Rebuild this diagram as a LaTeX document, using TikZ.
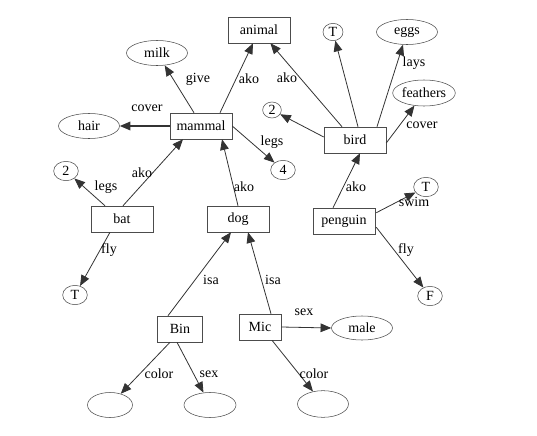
\documentclass[tikz,border=0pt]{standalone}
\usepackage{fontspec}
\setmainfont{Liberation Serif}
\usetikzlibrary{shapes.geometric,arrows.meta,calc}
\begin{document}
\begin{tikzpicture}[x=0.75pt,y=-0.75pt,
  font=\fontsize{10.5}{12}\selectfont,
  box/.style={draw=black!70, rectangle, inner sep=0pt, minimum width=46.5pt, minimum height=19.5pt},
  ell/.style={draw=black!70, ellipse, inner sep=0pt, minimum width=45.75pt, minimum height=18.75pt},
  sm/.style={draw=black!70, ellipse, inner sep=0pt, minimum width=18.5pt, minimum height=14.5pt},
  arr/.style={draw=black!80, line width=0.6pt, -{Triangle[length=8pt,width=6.5pt]}},
  lbl/.style={inner sep=0pt}]
\useasboundingbox (0,0) rectangle (537,436);
% nodes
\node[box] (animal) at (259,30) {animal};
\node[ell] (milk) at (157,53) {milk};
\node[box] (mammal) at (201,126) {mammal};
\node[ell] (hair) at (89,126) {hair};
\node[sm] (four) at (283,170) {4};
\node[sm, minimum width=15pt, minimum height=13pt] (Ttop) at (333,32) {T};
\node[ell] (eggs) at (407,32) {eggs};
\node[ell, minimum height=19.5pt] (feathers) at (424,93) {feathers};
\node[sm, minimum width=14pt, minimum height=12pt] (twob) at (272,110) {2};
\node[box] (bird) at (355,140) {bird};
\node[sm] (twoa) at (66,171) {2};
\node[box] (bat) at (122,219) {bat};
\node[sm] (Tbat) at (75,295) {T};
\node[box] (dog) at (238,219) {dog};
\node[box] (penguin) at (344,221) {penguin};
\node[sm] (Tpen) at (426,187) {T};
\node[sm] (F) at (430,296) {F};
\node[box, minimum width=33.75pt] (Bin) at (180,329) {Bin};
\node[box, minimum width=31.5pt] (Mic) at (260,327) {Mic};
\node[ell, minimum height=18pt] (male) at (362,328) {male};
\node[ell, minimum width=33.75pt] (eone) at (110,405) {};
\node[ell, minimum width=39pt] (etwo) at (210,405) {};
\node[ell, minimum width=38.25pt, minimum height=20pt] (ethree) at (323,404) {};
% connectors
\draw[arr] ($(mammal.north)+(-7,0)$) -- (milk);
\draw[arr] ($(mammal.north)+(19,0)$) -- ($(animal.south)+(-6,0)$);
\draw[arr, line width=1pt] (mammal.west) -- (hair.east);
\draw[arr] (mammal.east) -- (four);
\draw[arr] ($(bird.north)+(-13,0)$) -- (animal);
\draw[arr] ($(bird.north)+(3,0)$) -- (Ttop);
\draw[arr] ($(bird.north)+(22,0)$) -- (eggs);
\draw[arr] ($(bird.east)+(0,3)$) -- (feathers);
\draw[arr] ($(bird.west)+(0,-3)$) -- (twob);
\draw[arr] ($(bat.north)+(1,0)$) -- ($(mammal.south)+(-18,0)$);
\draw[arr] ($(bat.north)+(-17,0)$) -- (twoa);
\draw[arr] ($(bat.south)+(-12,0)$) -- (Tbat);
\draw[arr] (dog.north) -- ($(mammal.south)+(21,0)$);
\draw[arr] ($(penguin.north)+(-11,0)$) -- ($(bird.south)+(5,0)$);
\draw[arr] ($(penguin.north east)+(1,5)$) -- (Tpen);
\draw[arr] ($(penguin.south east)+(1,-7)$) -- (F);
\draw[arr] ($(Bin.north)+(-12,0)$) -- ($(dog.south)+(-7,0)$);
\draw[arr] ($(Mic.north)+(11,0)$) -- ($(dog.south)+(10,0)$);
\draw[arr] ($(Bin.south)+(-10,0)$) -- (eone);
\draw[arr] ($(Bin.south)+(-3,0)$) -- (etwo);
\draw[arr] (Mic.east) -- (male.west);
\draw[arr] ($(Mic.south)+(12,0)$) -- (ethree);
% labels
\node[lbl] (lgive) at (198,79) {give};
\node[lbl] (lako1) at (249,79) {ako};
\node[lbl] (lcover1) at (147,108) {cover};
\node[lbl] (lako2) at (287,78) {ako};
\node[lbl] (llays) at (414,63) {lays};
\node[lbl] (lcover2) at (422,125) {cover};
\node[lbl] (llegs1) at (272,142) {legs};
\node[lbl] (lako3) at (142,173) {ako};
\node[lbl] (llegs2) at (106,187) {legs};
\node[lbl] (lako4) at (244,187) {ako};
\node[lbl] (lako5) at (356,187) {ako};
\node[lbl] (lswim) at (414,202) {swim};
\node[lbl] (lfly1) at (109,250) {fly};
\node[lbl] (lfly2) at (406,250) {fly};
\node[lbl] (lisa1) at (211,280) {isa};
\node[lbl] (lisa2) at (273,280) {isa};
\node[lbl] (lsex1) at (304,312) {sex};
\node[lbl] (lcolor1) at (159,374) {color};
\node[lbl] (lsex2) at (209,374) {sex};
\node[lbl] (lcolor2) at (314,374) {color};
\end{tikzpicture}
\end{document}
